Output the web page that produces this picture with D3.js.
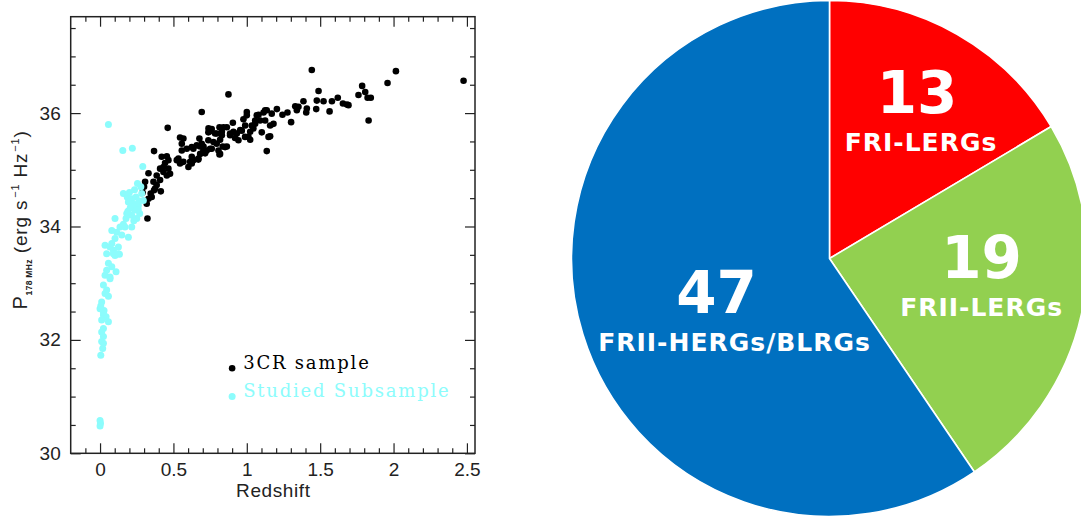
<!DOCTYPE html>
<html>
<head>
<meta charset="utf-8">
<script src="https://cdn.jsdelivr.net/npm/d3@7"></script>
<style>
  html, body { margin: 0; padding: 0; background: #fff; }
  svg { display: block; }
</style>
</head>
<body>
<svg id="chart" width="1081" height="517"></svg>
<script>
// ---- Data -------------------------------------------------------------
// Full 3CR sample: [redshift, log P178MHz (erg s^-1 Hz^-1)]
const sample3CR = [
  [1.443,36.76],[2.016,36.74],[2.477,36.57],[1.959,36.53],[1.786,36.48],[1.761,36.32],
  [1.807,36.37],[1.823,36.27],[1.845,36.27],[1.830,35.87],[1.620,36.27],[1.655,36.17],
  [1.682,36.15],[1.693,36.14],[1.489,36.39],[1.477,36.22],[1.523,36.21],[1.580,36.21],
  [1.564,36.03],[1.473,36.07],[1.405,36.01],[1.409,36.08],[1.386,36.21],[1.330,36.12],
  [1.341,36.05],[1.352,36.11],[1.277,36.01],[1.243,35.97],[1.302,35.84],[1.205,36.07],
  [1.170,35.99],[1.136,36.05],[1.114,36.01],[1.125,35.87],[1.159,35.78],[1.182,35.81],
  [1.159,35.59],[1.136,35.33],[1.080,35.97],[1.057,35.87],[1.000,36.02],[0.977,35.89],
  [1.000,35.96],[0.989,35.78],[1.034,35.78],[1.045,35.73],[1.023,35.67],[1.011,35.58],
  [1.023,35.53],[0.955,35.70],[0.932,35.64],[0.905,35.83],[0.875,36.33],[0.909,35.67],
  [0.886,35.61],[0.920,35.56],[0.943,35.52],[0.864,35.75],[0.830,35.67],[0.814,35.75],
  [0.830,35.61],[0.784,35.64],[0.750,35.68],[0.739,35.73],[0.773,35.49],[0.795,35.46],
  [0.818,35.53],[0.864,35.41],[0.836,35.41],[0.814,35.27],[0.761,35.37],[0.727,35.34],
  [0.705,35.41],[0.693,36.02],[0.677,35.55],[0.693,35.46],[0.682,35.41],[0.716,35.29],
  [0.670,35.18],[0.636,35.37],[0.625,35.23],[0.614,35.14],[0.602,35.05],[0.591,35.37],
  [0.557,35.46],[0.545,35.57],[0.568,35.55],[0.557,35.34],[0.545,35.11],[0.523,35.17],
  [0.461,35.74],[0.368,35.33],[0.420,35.23],[0.455,35.24],[0.466,35.17],[0.443,35.12],
  [0.432,35.05],[0.409,35.02],[0.466,35.02],[0.477,34.93],[0.455,34.90],[0.432,34.96],
  [0.386,34.90],[0.330,34.94],[0.307,34.79],[0.364,34.79],[0.386,34.73],[0.409,34.82],
  [0.368,34.64],[0.352,34.52],[0.330,34.49],[0.318,34.40],[0.414,34.62],[0.323,34.14],
  [0.534,35.20],[0.568,35.14],[0.625,35.11],[0.636,35.17],[0.670,35.20],[0.682,35.28],
  [0.625,35.40],[0.659,35.43],[0.704,35.34],[0.738,35.52],[0.750,35.37],[0.807,35.34],
  [0.818,35.28],[0.852,35.40],[0.738,35.66],[0.761,35.72],[0.795,35.64],[0.841,35.75],
  [0.886,35.64],[0.966,35.69],[0.988,35.58],[1.068,35.96],[1.057,35.81],[1.091,35.87],
  [1.102,35.66],[1.125,36.05],[1.148,35.58],[0.375,34.67],[0.345,34.58],[0.300,34.70],
  [0.290,34.60]
];

// Studied subsample (79 sources): [redshift, log P178MHz]
const studiedSubsample = [
  [0.057,35.80],[0.155,35.34],[0.220,35.38],[0.291,35.06],[0.255,34.76],[0.278,34.70],
  [0.159,34.58],[0.185,34.52],[0.216,34.49],[0.245,34.52],[0.284,34.58],[0.295,34.46],
  [0.227,34.40],[0.193,34.43],[0.261,34.37],[0.205,34.32],[0.239,34.29],[0.182,34.23],
  [0.216,34.20],[0.270,34.23],[0.250,34.14],[0.177,34.14],[0.102,34.14],[0.159,34.04],
  [0.216,33.99],[0.136,33.99],[0.080,33.93],[0.114,33.90],[0.193,33.81],[0.148,33.85],
  [0.102,33.79],[0.034,33.67],[0.068,33.64],[0.125,33.64],[0.091,33.58],[0.045,33.52],
  [0.102,33.49],[0.132,33.51],[0.057,33.35],[0.080,33.29],[0.109,33.20],[0.045,33.23],
  [0.034,33.14],[0.068,33.08],[0.023,32.97],[0.045,32.88],[0.034,32.82],[0.057,32.77],
  [0.011,32.67],[0.000,32.55],[0.027,32.52],[0.023,32.44],[0.041,32.41],[0.011,32.35],
  [0.057,32.32],[0.023,32.20],[0.011,32.14],[0.023,32.06],[0.011,31.97],[0.018,31.85],
  [0.005,31.73],[0.000,30.58],[0.003,30.53],[0.000,30.48],[0.091,33.52],[0.125,33.52],
  [0.080,33.70],[0.170,33.99],[0.230,34.10],[0.200,34.60],[0.235,34.65],[0.260,34.30],
  [0.210,34.36],[0.023,32.49],[0.023,31.94],[0.005,32.60],[0.068,33.11],[0.190,34.27],
  [0.265,34.45]
];

const xTickValues = [0, 0.5, 1, 1.5, 2, 2.5];
const yTickValues = [30, 32, 34, 36];

// Source classes of the studied subsample
const classNames  = ["FRI-LERGs", "FRII-LERGs", "FRII-HERGs/BLRGs"];
const classCounts = [13, 19, 47];

// ---- Styles -----------------------------------------------------------
const classColors = ["#ff0000", "#92d050", "#0070c0"];
const black = "#000000";
const cyan  = "#8cfcfc";
const ink   = "#222222";

const svg = d3.select("#chart");

// ---- Scatter panel ----------------------------------------------------
const x = d3.scaleLinear().domain([-0.2, 2.555]).range([70.7, 475]);
const y = d3.scaleLinear().domain([30, 37.7]).range([453.3, 16.7]);

const scatter = svg.append("g");

const xMinor = d3.range(-1, 26).map(i => i / 10).filter(v => Math.round(v * 10) % 5 !== 0);
const yMinor = d3.range(61, 76).map(i => i / 2).filter(v => !yTickValues.includes(v));

function styleAxis(g) {
  g.select(".domain").remove();
  g.selectAll(".tick line").attr("stroke", ink).attr("stroke-width", 1.2);
  g.selectAll(".tick text")
    .attr("fill", ink)
    .style("font-family", "'Liberation Sans', Arial, sans-serif")
    .style("font-size", "19px");
}

// bottom: labelled majors + minors
scatter.append("g").attr("transform", `translate(0,${y.range()[0]})`)
  .call(d3.axisBottom(x).tickValues(xTickValues).tickSize(-10).tickPadding(9).tickFormat(d3.format("")))
  .call(styleAxis);
scatter.append("g").attr("transform", `translate(0,${y.range()[0]})`)
  .call(d3.axisBottom(x).tickValues(xMinor).tickSize(-5).tickFormat(""))
  .call(styleAxis);
// top (mirrored)
scatter.append("g").attr("transform", `translate(0,${y.range()[1]})`)
  .call(d3.axisTop(x).tickValues(xTickValues).tickSize(-10).tickFormat(""))
  .call(styleAxis);
scatter.append("g").attr("transform", `translate(0,${y.range()[1]})`)
  .call(d3.axisTop(x).tickValues(xMinor).tickSize(-5).tickFormat(""))
  .call(styleAxis);
// left: labelled majors + minors
scatter.append("g").attr("transform", `translate(${x.range()[0]},0)`)
  .call(d3.axisLeft(y).tickValues(yTickValues).tickSize(-10).tickPadding(10).tickFormat(d3.format("d")))
  .call(styleAxis);
scatter.append("g").attr("transform", `translate(${x.range()[0]},0)`)
  .call(d3.axisLeft(y).tickValues(yMinor).tickSize(-5).tickFormat(""))
  .call(styleAxis);
// right (mirrored)
scatter.append("g").attr("transform", `translate(${x.range()[1]},0)`)
  .call(d3.axisRight(y).tickValues(yTickValues).tickSize(-10).tickFormat(""))
  .call(styleAxis);
scatter.append("g").attr("transform", `translate(${x.range()[1]},0)`)
  .call(d3.axisRight(y).tickValues(yMinor).tickSize(-5).tickFormat(""))
  .call(styleAxis);

// frame
scatter.append("rect")
  .attr("x", x.range()[0]).attr("y", y.range()[1])
  .attr("width", x.range()[1] - x.range()[0])
  .attr("height", y.range()[0] - y.range()[1])
  .attr("fill", "none").attr("stroke", ink).attr("stroke-width", 1.5);

// points
scatter.append("g").selectAll("circle").data(sample3CR).join("circle")
  .attr("cx", d => x(d[0])).attr("cy", d => y(d[1])).attr("r", 3.3).attr("fill", black);
scatter.append("g").selectAll("circle").data(studiedSubsample).join("circle")
  .attr("cx", d => x(d[0])).attr("cy", d => y(d[1])).attr("r", 3.5).attr("fill", cyan);

// axis titles
scatter.append("text")
  .attr("x", (x.range()[0] + x.range()[1]) / 2 + 0.5).attr("y", 497)
  .attr("text-anchor", "middle").attr("fill", ink)
  .style("font-family", "'Liberation Sans', Arial, sans-serif").style("font-size", "19px")
  .style("letter-spacing", "0.6px")
  .text("Redshift");

const yTitle = scatter.append("text")
  .attr("transform", "translate(27,220) rotate(-90)")
  .attr("text-anchor", "middle").attr("fill", ink)
  .style("font-family", "'Liberation Sans', Arial, sans-serif").style("font-size", "19px")
  .style("letter-spacing", "0.8px");
yTitle.append("tspan").style("font-size", "20px").text("P");
yTitle.append("tspan").attr("dy", 5).style("font-size", "8.5px").style("font-weight", "bold")
  .style("letter-spacing", "0.3px").text("178 MHz");
yTitle.append("tspan").attr("dy", -5).text("  (erg s");
yTitle.append("tspan").attr("dy", -8).attr("dx", 2).style("font-size", "11px").text("−1");
yTitle.append("tspan").attr("dy", 8).text("  Hz");
yTitle.append("tspan").attr("dy", -8).attr("dx", 1).style("font-size", "11px").text("−1");
yTitle.append("tspan").attr("dy", 8).text(")");

// legend
const legendItems = [
  { label: "3CR sample", color: black, z: 0.9, p: 31.5, r: 3.3 },
  { label: "Studied Subsample", color: cyan, z: 0.9, p: 31.0, r: 3.5 }
];
const legend = scatter.append("g");
legend.selectAll("circle").data(legendItems).join("circle")
  .attr("cx", d => x(d.z)).attr("cy", d => y(d.p)).attr("r", d => d.r).attr("fill", d => d.color);
legend.selectAll("text").data(legendItems).join("text")
  .attr("x", d => x(d.z) + 11).attr("y", d => y(d.p) + 0.5)
  .attr("fill", d => d.color)
  .style("font-family", "'DejaVu Serif', serif").style("font-size", "18px")
  .style("letter-spacing", "1.8px")
  .text(d => d.label);

// ---- Pie panel --------------------------------------------------------
const cx = 829.5, cy = 258.5, R = 258;
const pieData = classNames.map((name, i) => ({ name, count: classCounts[i], color: classColors[i] }));
const pie = d3.pie().sort(null).value(d => d.count);
const arc = d3.arc().innerRadius(0).outerRadius(R);
const labelArc = d3.arc().innerRadius(R * 0.6).outerRadius(R * 0.6);

// label placement tweaks: [dx, dy] of the label block, and split between its two lines
const labelNudge = { "FRI-LERGs": [13, 8, 2], "FRII-LERGs": [1, 5, 0], "FRII-HERGs/BLRGs": [44, 28, 9] };

const pieG = svg.append("g").attr("transform", `translate(${cx},${cy})`);
const slices = pie(pieData);

pieG.selectAll("path").data(slices).join("path")
  .attr("d", arc).attr("fill", d => d.data.color)
  .attr("stroke", "#fff").attr("stroke-width", 1.6).attr("stroke-linejoin", "round");

const labels = pieG.selectAll("g.label").data(slices).join("g").attr("class", "label")
  .attr("transform", d => {
    const [lx, ly] = labelArc.centroid(d);
    const n = labelNudge[d.data.name];
    return `translate(${lx + n[0]},${ly + n[1]})`;
  });
labels.append("text")
  .attr("x", d => -labelNudge[d.data.name][2]).attr("y", -19)
  .attr("text-anchor", "middle").attr("fill", "#fff")
  .style("font-family", "'DejaVu Sans', sans-serif").style("font-weight", "bold").style("font-size", "58px")
  .text(d => d.data.count);
labels.append("text")
  .attr("x", d => labelNudge[d.data.name][2]).attr("y", 19)
  .attr("text-anchor", "middle").attr("fill", "#fff")
  .style("font-family", "'DejaVu Sans', sans-serif").style("font-weight", "bold").style("font-size", "25px")
  .style("letter-spacing", "1px")
  .text(d => d.data.name);
</script>
</body>
</html>
